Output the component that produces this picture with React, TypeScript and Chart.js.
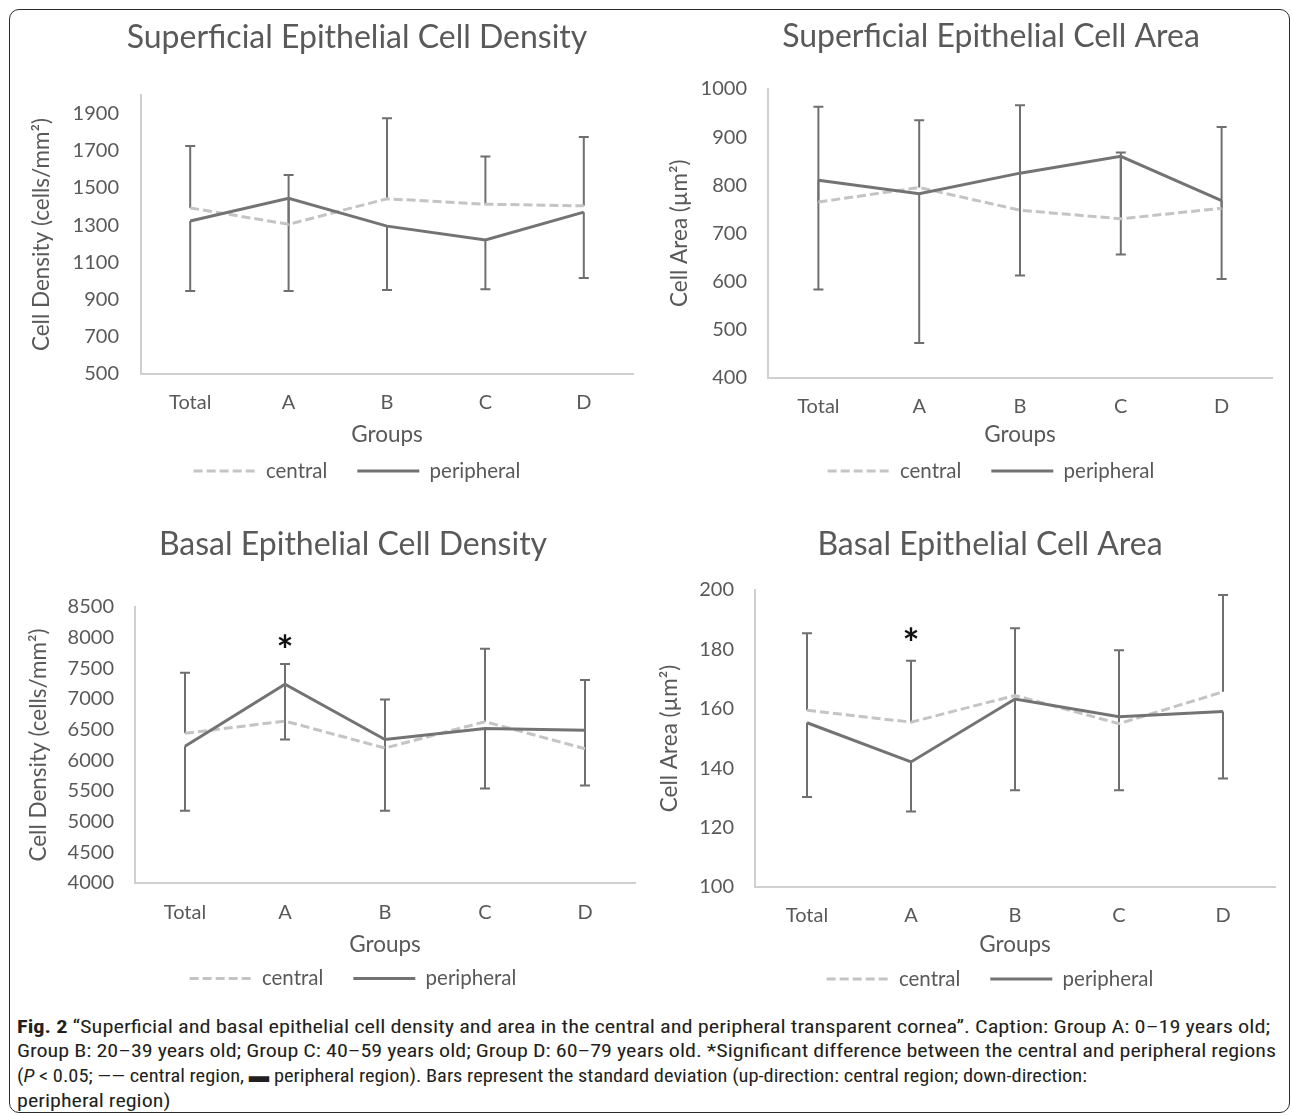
import React, { useEffect, useLayoutEffect, useRef, useState } from "react";
import { Chart, registerables } from "chart.js";

Chart.register(...registerables);

// ---------------- DATA ----------------
const groups = ["Total", "A", "B", "C", "D"];
const seriesNames = ["central", "peripheral"];

const supDensCentral = [1393, 1305, 1442, 1413, 1404];
const supDensPeripheral = [1323, 1445, 1295, 1221, 1370];
const supDensCentralSD = [333, 265, 433, 256, 370];
const supDensPeripheralSD = [377, 499, 344, 265, 354];
const supDensTicks = [500, 700, 900, 1100, 1300, 1500, 1700, 1900];
const supDensRange = [500, 2000];
const supDensStars: (number | null)[] = [null, null, null, null, null];

const supAreaCentral = [765, 795, 748, 730, 752];
const supAreaPeripheral = [810, 782, 825, 860, 768];
const supAreaCentralSD = [198, 140, 218, 138, 169];
const supAreaPeripheralSD = [227, 310, 213, 204, 163];
const supAreaTicks = [400, 500, 600, 700, 800, 900, 1000];
const supAreaRange = [400, 1000];
const supAreaStars: (number | null)[] = [null, null, null, null, null];

const basDensCentral = [6440, 6640, 6200, 6630, 6190];
const basDensPeripheral = [6230, 7240, 6340, 6520, 6490];
const basDensCentralSD = [990, 930, 790, 1190, 1120];
const basDensPeripheralSD = [1050, 900, 1160, 980, 900];
const basDensTicks = [4000, 4500, 5000, 5500, 6000, 6500, 7000, 7500, 8000, 8500];
const basDensRange = [4000, 8500];
const basDensStars: (number | null)[] = [null, 7900, null, null, null];

const basAreaCentral = [159.5, 155.5, 164.5, 155, 165.7];
const basAreaPeripheral = [155.3, 142.1, 163.3, 157.3, 159.1];
const basAreaCentralSD = [25.9, 20.7, 22.6, 24.7, 32.6];
const basAreaPeripheralSD = [25, 16.7, 30.7, 24.7, 22.6];
const basAreaTicks = [100, 120, 140, 160, 180, 200];
const basAreaRange = [100, 200];
const basAreaStars: (number | null)[] = [null, 184, null, null, null];

// ---------------- STYLE ----------------
const FONT = "Lato, 'Open Sans', sans-serif";
const TEXT = "#595959";
const AXIS = "#d0d0d0";
const DARK = "#737373";
const LIGHT = "#c4c4c4";
const BAR = "#6f6f6f";
const TITLE_SIZE = 32;
const TICK_SIZE = 20;
const AXIS_SIZE = 22.5;
const LEGEND_SIZE = 20.5;
const LH = 1.2;
const LEG_PAD = 30;
const STAR_SIZE = 40;

type Layout = {
  left: number; top: number; width: number; height: number;
  plotLeft: number; plotRight: number; plotTop: number; plotBottom: number;
  titleMid: number; tickMid: number; xTitleMid: number; legendMid: number;
  yTitleX: number; yTickPad: number;
};

type Spec = {
  title: string; yTitle: string;
  central: number[]; peripheral: number[];
  centralSD: number[]; peripheralSD: number[];
  ticks: number[]; range: number[]; stars: (number | null)[];
};

function buildConfig(s: Spec, L: Layout): any {
  const titleLH = TITLE_SIZE * LH;
  const tickLH = TICK_SIZE * LH;
  const axisLH = AXIS_SIZE * LH;
  const titlePadTop = L.titleMid - L.top - titleLH / 2;
  const titlePadBottom = L.plotTop - L.titleMid - titleLH / 2;
  const tickPad = L.tickMid - L.plotBottom - tickLH / 2;
  const legTop = L.legendMid - LEG_PAD - LEGEND_SIZE / 2;
  const xH = legTop - L.plotBottom;
  const xTitlePadBottom = legTop - L.xTitleMid - axisLH / 2;
  const legBottom = legTop + LEGEND_SIZE + LEG_PAD + 10;
  const layoutBottom = L.top + L.height - legBottom;
  const yAxisW = L.plotLeft - L.left;
  const rightW = L.left + L.width - L.plotRight;
  const yTitlePadTop = L.yTitleX - L.left - axisLH / 2;

  const errorBars = {
    id: "errorBars",
    beforeDatasetsDraw(chart: any) {
      const { ctx, scales } = chart;
      const x = scales.x;
      const y = scales.y;
      ctx.save();
      ctx.strokeStyle = BAR;
      ctx.lineWidth = 2;
      const cap = 5;
      const seg = (xp: number, a: number, b: number) => {
        ctx.beginPath();
        ctx.moveTo(xp, a);
        ctx.lineTo(xp, b);
        ctx.moveTo(xp - cap, b);
        ctx.lineTo(xp + cap, b);
        ctx.stroke();
      };
      for (let i = 0; i < groups.length; i++) {
        const xp = x.getPixelForValue(i);
        seg(xp, y.getPixelForValue(s.central[i]), y.getPixelForValue(s.central[i] + s.centralSD[i]));
        seg(xp, y.getPixelForValue(s.peripheral[i]), y.getPixelForValue(s.peripheral[i] - s.peripheralSD[i]));
      }
      ctx.restore();
    },
    afterDatasetsDraw(chart: any) {
      const { ctx, scales } = chart;
      ctx.save();
      ctx.fillStyle = "#111";
      ctx.font = `bold ${STAR_SIZE}px ${FONT}`;
      ctx.textAlign = "center";
      ctx.textBaseline = "middle";
      s.stars.forEach((v, i) => {
        if (v == null) return;
        ctx.fillText("*", scales.x.getPixelForValue(i), scales.y.getPixelForValue(v) + 0.2 * STAR_SIZE);
      });
      ctx.restore();
    },
  };

  return {
    type: "line",
    data: {
      labels: groups,
      datasets: [
        {
          label: seriesNames[0],
          data: s.central,
          borderColor: LIGHT,
          backgroundColor: LIGHT,
          borderWidth: 3,
          borderDash: [9, 4],
          pointRadius: 0,
          tension: 0,
          order: 1,
        },
        {
          label: seriesNames[1],
          data: s.peripheral,
          borderColor: DARK,
          backgroundColor: DARK,
          borderWidth: 3,
          pointRadius: 0,
          tension: 0,
          order: 0,
        },
      ],
    },
    options: {
      responsive: false,
      maintainAspectRatio: false,
      animation: false,
      devicePixelRatio: 1,
      events: [],
      layout: { padding: { top: 0, left: 0, right: 0, bottom: layoutBottom } },
      plugins: {
        tooltip: { enabled: false },
        title: {
          display: true,
          text: s.title,
          color: TEXT,
          font: { family: FONT, size: TITLE_SIZE, weight: "normal", lineHeight: LH },
          padding: { top: titlePadTop, bottom: titlePadBottom },
        },
        legend: {
          display: true,
          position: "bottom",
          labels: {
            usePointStyle: true,
            pointStyle: "line",
            pointStyleWidth: 62,
            color: TEXT,
            padding: LEG_PAD,
            font: { family: FONT, size: LEGEND_SIZE },
            generateLabels: (chart: any) =>
              chart.data.datasets.map((ds: any, i: number) => ({
                text: ds.label,
                datasetIndex: i,
                fillStyle: ds.borderColor,
                strokeStyle: ds.borderColor,
                lineWidth: ds.borderWidth,
                lineDash: ds.borderDash || [],
                lineCap: "butt",
                pointStyle: "line",
                fontColor: TEXT,
                hidden: false,
              })),
          },
        },
      },
      scales: {
        x: {
          type: "category",
          offset: true,
          grid: { display: false, drawTicks: false },
          border: { display: true, color: AXIS, width: 2 },
          ticks: {
            color: TEXT,
            font: { family: FONT, size: TICK_SIZE, lineHeight: LH },
            padding: tickPad,
            maxRotation: 0,
            autoSkip: false,
          },
          title: {
            display: true,
            text: "Groups",
            color: TEXT,
            font: { family: FONT, size: AXIS_SIZE, lineHeight: LH },
            padding: { top: 0, bottom: xTitlePadBottom },
          },
          afterFit: (sc: any) => { sc.height = xH; },
        },
        y: {
          type: "linear",
          position: "left",
          min: s.range[0],
          max: s.range[1],
          afterBuildTicks: (sc: any) => { sc.ticks = s.ticks.map((v) => ({ value: v })); },
          grid: { display: false, drawTicks: false },
          border: { display: true, color: AXIS, width: 2 },
          ticks: {
            color: TEXT,
            font: { family: FONT, size: TICK_SIZE, lineHeight: LH },
            padding: L.yTickPad,
            callback: (v: any) => String(v),
          },
          title: {
            display: true,
            text: s.yTitle,
            color: TEXT,
            font: { family: FONT, size: AXIS_SIZE, lineHeight: LH },
            padding: { top: yTitlePadTop, bottom: 0 },
          },
          afterFit: (sc: any) => { sc.width = yAxisW; },
        },
        yr: {
          type: "linear",
          position: "right",
          display: true,
          grid: { display: false, drawTicks: false },
          border: { display: false },
          ticks: { display: false },
          afterFit: (sc: any) => { sc.width = rightW; },
        },
      },
    },
    plugins: [errorBars],
  };
}

function ChartBox({ spec, layout }: { spec: Spec; layout: Layout }) {
  const ref = useRef<HTMLCanvasElement>(null);
  useEffect(() => {
    const chart = new Chart(ref.current as HTMLCanvasElement, buildConfig(spec, layout));
    return () => chart.destroy();
  }, []);
  return (
    <canvas
      ref={ref}
      width={layout.width}
      height={layout.height}
      style={{ position: "absolute", left: layout.left, top: layout.top, width: layout.width, height: layout.height }}
    />
  );
}

const specs: Spec[] = [
  { title: "Superficial Epithelial Cell Density", yTitle: "Cell Density (cells/mm²)", central: supDensCentral, peripheral: supDensPeripheral, centralSD: supDensCentralSD, peripheralSD: supDensPeripheralSD, ticks: supDensTicks, range: supDensRange, stars: supDensStars },
  { title: "Superficial Epithelial Cell Area", yTitle: "Cell Area (µm²)", central: supAreaCentral, peripheral: supAreaPeripheral, centralSD: supAreaCentralSD, peripheralSD: supAreaPeripheralSD, ticks: supAreaTicks, range: supAreaRange, stars: supAreaStars },
  { title: "Basal Epithelial Cell Density", yTitle: "Cell Density (cells/mm²)", central: basDensCentral, peripheral: basDensPeripheral, centralSD: basDensCentralSD, peripheralSD: basDensPeripheralSD, ticks: basDensTicks, range: basDensRange, stars: basDensStars },
  { title: "Basal Epithelial Cell Area", yTitle: "Cell Area (µm²)", central: basAreaCentral, peripheral: basAreaPeripheral, centralSD: basAreaCentralSD, peripheralSD: basAreaPeripheralSD, ticks: basAreaTicks, range: basAreaRange, stars: basAreaStars },
];

const layouts: Layout[] = [
  { left: 9, top: 9, width: 696, height: 491, plotLeft: 141, plotRight: 633, plotTop: 95, plotBottom: 374, titleMid: 37.5, tickMid: 402.5, xTitleMid: 434.5, legendMid: 471, yTitleX: 41.5, yTickPad: 22 },
  { left: 655, top: 9, width: 672, height: 491, plotLeft: 768, plotRight: 1272, plotTop: 89, plotBottom: 377.5, titleMid: 36.5, tickMid: 406.5, xTitleMid: 434.5, legendMid: 471, yTitleX: 680, yTickPad: 21 },
  { left: 9, top: 505, width: 688, height: 500, plotLeft: 135, plotRight: 635, plotTop: 607, plotBottom: 883, titleMid: 545, tickMid: 912.5, xTitleMid: 944.5, legendMid: 978.5, yTitleX: 39, yTickPad: 21 },
  { left: 655, top: 505, width: 670, height: 500, plotLeft: 755, plotRight: 1275, plotTop: 590, plotBottom: 887, titleMid: 545, tickMid: 915.5, xTitleMid: 945, legendMid: 979, yTitleX: 670, yTickPad: 21 },
];

// target rendered width of each caption line (px); null = use the scale of line 2
const CAPTION_WIDTHS: (number | null)[] = [1253, 1259, 1070, null];

function Caption() {
  const refs = [useRef<HTMLSpanElement>(null), useRef<HTMLSpanElement>(null), useRef<HTMLSpanElement>(null), useRef<HTMLSpanElement>(null)];
  const [scales, setScales] = useState<number[]>([1, 1, 1, 1]);
  useLayoutEffect(() => {
    const w = refs.map((r) => (r.current ? r.current.getBoundingClientRect().width : 0));
    const base = w[1] > 0 ? 1259 / w[1] : 1;
    setScales(CAPTION_WIDTHS.map((t, i) => (t != null && w[i] > 0 ? t / w[i] : base)));
  }, []);
  const line = (i: number): React.CSSProperties => ({
    whiteSpace: "nowrap",
    height: 24.7,
    lineHeight: "24.7px",
    transform: `scaleX(${scales[i]})`,
    transformOrigin: "left top",
  });
  return (
    <div
      style={{
        position: "absolute",
        left: 17,
        top: 1014.5,
        fontFamily: "'Liberation Sans Narrow', 'Roboto Condensed', 'Noto Sans', sans-serif",
        fontSize: 19,
        color: "#231f20",
      }}
    >
      <div style={line(0)}>
        <span ref={refs[0]}>
          <b>Fig. 2</b> “Superficial and basal epithelial cell density and area in the central and peripheral transparent cornea”. Caption: Group A: 0–19 years old;
        </span>
      </div>
      <div style={line(1)}>
        <span ref={refs[1]}>Group B: 20–39 years old; Group C: 40–59 years old; Group D: 60–79 years old. *Significant difference between the central and peripheral regions</span>
      </div>
      <div style={line(2)}>
        <span ref={refs[2]}>
          (<i>P</i> &lt; 0.05; —— central region, ▬ peripheral region). Bars represent the standard deviation (up-direction: central region; down-direction:
        </span>
      </div>
      <div style={line(3)}>
        <span ref={refs[3]}>peripheral region)</span>
      </div>
    </div>
  );
}

export default function App() {
  return (
    <div style={{ position: "fixed", left: 0, top: 0, width: 1292, height: 1115, overflow: "hidden", background: "#fff" }}>
      <div
        style={{
          position: "absolute",
          left: 9,
          top: 9,
          width: 1281,
          height: 1104,
          border: "1.5px solid #2b2b2b",
          borderRadius: 10,
          boxSizing: "border-box",
        }}
      />
      {specs.map((s, i) => (
        <ChartBox key={i} spec={s} layout={layouts[i]} />
      ))}
      <Caption />
    </div>
  );
}
